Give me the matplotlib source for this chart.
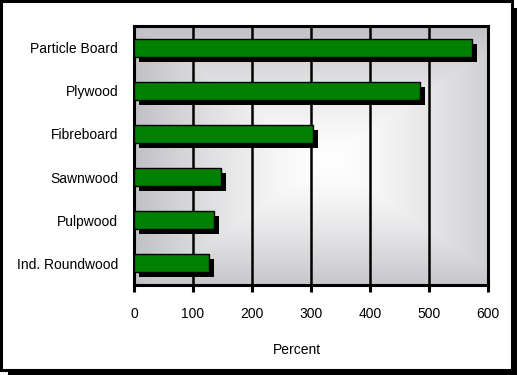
import numpy as np
import matplotlib.pyplot as plt
import matplotlib.transforms as mtransforms
from matplotlib.patches import Rectangle

# データ
categories = ["Particle Board", "Plywood", "Fibreboard", "Sawnwood",
              "Pulpwood", "Ind. Roundwood"]
values = [573, 484, 304, 147, 136, 127]
xticks = [0, 100, 200, 300, 400, 500, 600]

plt.rcParams['font.family'] = ['Liberation Sans', 'DejaVu Sans']

fig = plt.figure(figsize=(5.18, 3.75), dpi=100)
fig.patch.set_facecolor('white')

# 外枠と影
fig.patches.append(Rectangle((8 / 518, 0.0), 1 - 9 / 518, 1 - 8 / 375,
                             transform=fig.transFigure, facecolor='black',
                             edgecolor='none', zorder=0))
fig.patches.append(Rectangle((1 / 518, 5 / 375), 511 / 518, 369 / 375,
                             transform=fig.transFigure, facecolor='white',
                             edgecolor='black', linewidth=2.2, zorder=1))

ax = fig.add_axes([134 / 518, 1 - 285 / 375, 354 / 518, 259 / 375])
ax.set_zorder(2)

# 背景のグラデーション
ny, nx = 200, 300
xx, yy = np.meshgrid(np.linspace(0, 1, nx), np.linspace(0, 1, ny))
d = np.maximum(np.abs(xx - 0.55) / 0.55, np.abs(yy - 0.52) / 0.52)
d = np.clip(d, 0, 1) ** 1.4
edge = np.array([192, 192, 197]) / 255.0
img = (1 - d)[..., None] * np.ones(3) + d[..., None] * edge
ax.imshow(img, extent=[0, 600, 5.5, -0.5], aspect='auto', zorder=0,
          interpolation='bilinear')

y = np.arange(len(categories))
shadow = mtransforms.offset_copy(ax.transData, fig=fig, x=5, y=-5, units='dots')
ax.barh(y, values, height=0.42, color='black', transform=shadow, zorder=3)
ax.barh(y, values, height=0.42, color='#008000', edgecolor='black',
        linewidth=1.0, zorder=4)

ax.set_xlim(0, 600)
ax.set_ylim(5.5, -0.5)
ax.set_xticks(xticks)
ax.set_yticks(y)
ax.set_yticklabels(categories)
ax.xaxis.grid(True, color='black', linewidth=1.8, zorder=1)
ax.set_axisbelow(True)

for s in ax.spines.values():
    s.set_linewidth(2.2)
    s.set_color('black')

ax.tick_params(axis='x', length=5, width=2.2, direction='out', pad=11,
               labelsize=10)
ax.tick_params(axis='y', length=0, pad=11.5, labelsize=10)
ax.set_xlabel('Percent', fontsize=10)
ax.xaxis.set_label_coords(0.46, -0.225)

fig.savefig('out.png', dpi=100)
